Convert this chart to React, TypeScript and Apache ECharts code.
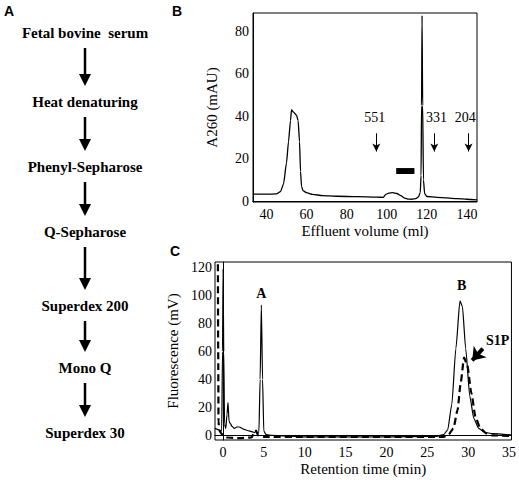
import React, { useEffect, useRef } from "react";
import * as echarts from "echarts";

// Panel A: purification steps
const flowSteps = [
  "Fetal bovine  serum",
  "Heat denaturing",
  "Phenyl-Sepharose",
  "Q-Sepharose",
  "Superdex 200",
  "Mono Q",
  "Superdex 30",
];

// Panel B: gel filtration A260 trace
const volumeB = [33.3, 40, 45, 47, 48.5, 50, 51, 52, 52.5, 53.5, 55, 55.8, 56.5, 57, 57.5, 58.2, 60, 63, 68, 75, 85, 95, 98.3, 99.5, 101, 103, 105, 107, 109, 110.5, 112.5, 114.5, 115.8, 116.7, 117.1, 117.35, 117.6, 117.9, 118.3, 118.9, 120, 125, 130, 135, 140, 145];
const a260B = [3.3, 3.3, 3.4, 4.5, 8, 18, 28, 38, 43, 42, 40.5, 38, 28, 14, 7, 5, 4, 3.2, 2.6, 2.3, 2.1, 1.9, 1.8, 3.2, 3.8, 4, 3.6, 2.6, 1.4, 1.0, 0.9, 1.2, 2, 4, 12, 45, 87.5, 45, 10, 3.5, 2.2, 1.8, 1.5, 1.2, 0.9, 0.6];
const bTicksX = [40, 60, 80, 100, 120, 140];
const bTicksY = [0, 20, 40, 60, 80];
const markerLabels = ["551", "331", "204"];
const markerVolumes = [94.8, 123.7, 140.8];
const markerLabelVolumes = [94, 124.8, 139.2];
const fractionRange = [104.7, 113.8];

// Panel C: HPLC fluorescence traces
const timeSolid = [-1, -0.5, -0.15, -0.05, 0.02, 0.1, 0.2, 0.35, 0.5, 0.62, 0.75, 0.9, 1.1, 1.4, 1.7, 2.0, 2.5, 3.0, 3.6, 3.9, 4.05, 4.2, 4.4, 4.55, 4.7, 4.85, 5.0, 5.3, 6, 10, 20, 26, 27, 27.5, 28, 28.5, 29, 29.3, 29.7, 30.2, 30.7, 31.3, 32, 33, 35.3];
const fluorSolid = [5, 4, 3, 60, 119, 60, 8, 5, 15, 23.5, 10, 8.5, 6.5, 5, 6, 6, 4.5, 3.5, 2.5, 2, 3.5, 1.5, 2, 40, 93, 40, 3, 0.5, 0, -1, -1, -0.8, 0.5, 4, 22, 62, 96, 92, 62, 28, 12, 5, 2.2, 1.2, 0.3];
const timeDashed = [-0.62, -0.58, -0.54, -0.45, -0.3, 0, 0.5, 2, 3.5, 3.85, 4.05, 4.3, 5, 10, 20, 27, 27.6, 28.2, 28.7, 29.1, 29.5, 29.9, 30.4, 30.9, 31.5, 32.2, 33, 35.3];
const fluorDashed = [130, 60, 10, 4, 2, 0, -1.5, -2, -1.5, 2, 3.5, 0, -1, -1, -1, -1, 0.5, 5, 18, 38, 55.5, 50, 30, 13, 5, 1.5, 0, -0.5];
const cTicksX = [0, 5, 10, 15, 20, 25, 30, 35];
const cTicksY = [0, 20, 40, 60, 80, 100, 120];
const peakLabels = ["A", "B", "S1P"];
const peakLabelPos = [
  [4.7, 101],
  [29.2, 107],
  [33.6, 68],
];
const s1pArrow = [
  [31.8, 62],
  [30.5, 53.5],
];

const serif = "Liberation Serif";

function zip(xs: number[], ys: number[]) {
  return xs.map((x, i) => [x, ys[i]]);
}

export default function App() {
  const ref = useRef<HTMLDivElement>(null);
  useEffect(() => {
    document.body.style.margin = "0";
    const chart = echarts.init(ref.current!, null, { renderer: "svg" });

    const flowY = [33, 102, 167, 232, 306, 368, 433];
    const graphics: any[] = [];
    flowSteps.forEach((s, i) => {
      graphics.push({
        type: "text",
        x: 85,
        y: flowY[i],
        style: {
          text: s,
          font: "bold 15px Liberation Serif",
          fill: "#000",
          align: "center",
          verticalAlign: "middle",
        },
      });
      if (i < flowSteps.length - 1) {
        const y1 = flowY[i] + 15;
        const y2 = flowY[i + 1] - 16;
        graphics.push({
          type: "line",
          shape: { x1: 85, y1, x2: 85, y2: y2 - 10 },
          style: { stroke: "#000", lineWidth: 2.5 },
        });
        graphics.push({
          type: "polygon",
          shape: { points: [[79, y2 - 12], [91, y2 - 12], [85, y2]] },
          style: { fill: "#000" },
        });
      }
    });
    const panelLetters = [
      ["A", 4, 4],
      ["B", 172, 4],
      ["C", 170, 244],
    ];
    panelLetters.forEach(([t, x, y]) =>
      graphics.push({
        type: "text",
        x,
        y,
        style: {
          text: t,
          font: "bold 14px Liberation Sans",
          fill: "#000",
          align: "left",
          verticalAlign: "top",
        },
      })
    );

    const tickText = { color: "#000", fontFamily: serif, fontSize: 14 };
    const nameText = { color: "#000", fontFamily: serif, fontSize: 15 };
    const axisLine = { show: true, lineStyle: { color: "#000", width: 1 } };

    chart.setOption({
      animation: false,
      graphic: graphics,
      grid: [
        { left: 253, top: 13, width: 224, height: 189, show: true, borderColor: "#000", borderWidth: 1 },
        { left: 215, top: 262, width: 300, height: 178, show: true, borderColor: "#000", borderWidth: 1 },
      ],
      xAxis: [
        {
          type: "value",
          gridIndex: 0,
          min: 33.3,
          max: 145,
          axisLine,
          axisTick: { show: false },
          splitLine: { show: false },
          axisLabel: { ...tickText, margin: 5, customValues: bTicksX },
          name: "Effluent volume (ml)",
          nameLocation: "middle",
          nameGap: 21,
          nameTextStyle: { ...nameText, verticalAlign: "top" },
        },
        {
          type: "value",
          gridIndex: 1,
          min: -0.97,
          max: 35.3,
          axisLine,
          axisTick: { show: false },
          splitLine: { show: false },
          axisLabel: { ...tickText, margin: 5, customValues: cTicksX },
          name: "Retention time (min)",
          nameLocation: "middle",
          nameGap: 21,
          nameTextStyle: { ...nameText, verticalAlign: "top" },
        },
      ],
      yAxis: [
        {
          type: "value",
          gridIndex: 0,
          min: -0.4,
          max: 88.7,
          axisLine,
          axisTick: { show: false },
          splitLine: { show: false },
          axisLabel: { ...tickText, margin: 4, customValues: bTicksY },
          name: "A260 (mAU)",
          nameLocation: "middle",
          nameGap: 34,
          nameTextStyle: nameText,
        },
        {
          type: "value",
          gridIndex: 1,
          min: -3.3,
          max: 123.8,
          axisLine,
          axisTick: { show: false },
          splitLine: { show: false },
          axisLabel: { ...tickText, margin: 3, customValues: cTicksY },
          name: "Fluorescence (mV)",
          nameLocation: "middle",
          nameGap: 30,
          nameTextStyle: nameText,
        },
      ],
      series: [
        {
          type: "line",
          xAxisIndex: 0,
          yAxisIndex: 0,
          data: zip(volumeB, a260B),
          showSymbol: false,
          smooth: 0.2,
          smoothMonotone: "x",
          lineStyle: { color: "#000", width: 1.3 },
          silent: true,
          markLine: {
            silent: true,
            symbol: ["none", "arrow"],
            symbolSize: [6, 8],
            label: { show: false },
            lineStyle: { color: "#000", width: 1, type: "solid" },
            data: markerVolumes.map((v) => [{ coord: [v, 32] }, { coord: [v, 23.4] }]),
          },
          markArea: {
            silent: true,
            itemStyle: { color: "#000", opacity: 1 },
            data: [[{ coord: [fractionRange[0], 15.6] }, { coord: [fractionRange[1], 12.8] }]],
          },
        },
        {
          type: "scatter",
          xAxisIndex: 0,
          yAxisIndex: 0,
          symbolSize: 0,
          silent: true,
          itemStyle: { color: "#000", opacity: 1 },
          data: markerLabelVolumes.map((v, i) => ({ value: [v, 39.3], name: markerLabels[i] })),
          label: {
            show: true,
            position: "inside",
            formatter: (p: any) => p.name,
            ...tickText,
            opacity: 1,
            textBorderWidth: 0,
          },
        },
        {
          type: "line",
          xAxisIndex: 1,
          yAxisIndex: 1,
          data: zip(timeSolid, fluorSolid),
          showSymbol: false,
          smooth: 0.2,
          smoothMonotone: "x",
          lineStyle: { color: "#000", width: 1.2 },
          silent: true,
        },
        {
          type: "line",
          xAxisIndex: 1,
          yAxisIndex: 1,
          data: zip(timeDashed, fluorDashed),
          showSymbol: false,
          smooth: 0.2,
          smoothMonotone: "x",
          lineStyle: { color: "#000", width: 2.2, type: [7, 4] },
          silent: true,
          markLine: {
            silent: true,
            symbol: ["none", "arrow"],
            symbolSize: [13, 12],
            label: { show: false },
            lineStyle: { color: "#000", width: 4, type: "solid" },
            data: [[{ coord: s1pArrow[0] }, { coord: s1pArrow[1] }]],
          },
        },
        {
          type: "scatter",
          xAxisIndex: 1,
          yAxisIndex: 1,
          symbolSize: 0,
          silent: true,
          itemStyle: { color: "#000", opacity: 1 },
          data: peakLabels.map((t, i) => ({ value: peakLabelPos[i], name: t })),
          label: {
            show: true,
            position: "inside",
            formatter: (p: any) => p.name,
            color: "#000",
            fontFamily: serif,
            fontWeight: "bold",
            fontSize: 14,
            opacity: 1,
            textBorderWidth: 0,
          },
        },
      ],
    });
    return () => chart.dispose();
  }, []);
  return (
    <div
      ref={ref}
      style={{ position: "absolute", left: 0, top: 0, width: 519, height: 480 }}
    />
  );
}
